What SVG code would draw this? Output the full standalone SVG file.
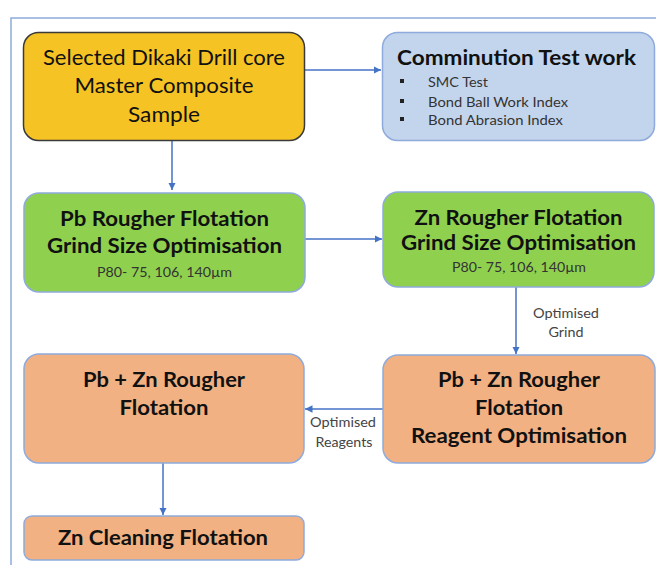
<svg xmlns="http://www.w3.org/2000/svg" width="656" height="565" viewBox="0 0 656 565">
<defs>
<style>
.box{stroke:#8FAADC;stroke-width:1.5}
.t{font-family:Lato,"Liberation Sans",sans-serif;fill:#111;text-anchor:middle}
.b{font-weight:bold;font-size:21px}
.r{font-size:21px}
.s{font-size:13px;fill:#333}
.lbl{font-family:Lato,"Liberation Sans",sans-serif;font-size:13px;fill:#444;text-anchor:middle}
.bl{font-family:Lato,"Liberation Sans",sans-serif;font-size:13px;fill:#333}
.c{stroke:#4472C4;stroke-width:1.5;fill:none;marker-end:url(#ah)}
</style>
<marker id="ah" viewBox="0 0 10 10" refX="10" refY="5" markerWidth="5" markerHeight="5" orient="auto" markerUnits="strokeWidth">
<path d="M0,0 L10,5 L0,10 z" fill="#4472C4"/>
</marker>
</defs>
<rect width="656" height="565" fill="#fff"/>
<path d="M11,565 V18 H656" fill="none" stroke="#8FAADC" stroke-width="1.5"/>
<g id="connectors">
<path class="c" d="M305,70 H381"/>
<path class="c" d="M172,141 V190"/>
<path class="c" d="M305,239 H382"/>
<path class="c" d="M516,287 V354"/>
<path class="c" d="M383,409 H305"/>
<path class="c" d="M163,463 V515"/>
<text class="lbl" x="566" y="318" textLength="66" lengthAdjust="spacingAndGlyphs">Optimised</text>
<text class="lbl" x="566" y="337" textLength="35" lengthAdjust="spacingAndGlyphs">Grind</text>
<text class="lbl" x="343" y="427" textLength="66" lengthAdjust="spacingAndGlyphs">Optimised</text>
<text class="lbl" x="344" y="447" textLength="57" lengthAdjust="spacingAndGlyphs">Reagents</text>
</g>
<g id="sample">
<rect x="23.5" y="32.5" width="281" height="108" rx="15" fill="#F6C324" stroke="#3A3A3A" stroke-width="1.5"/>
<text class="t r" x="164" y="65" textLength="242" lengthAdjust="spacingAndGlyphs">Selected Dikaki Drill core</text>
<text class="t r" x="164" y="93" textLength="179" lengthAdjust="spacingAndGlyphs">Master Composite</text>
<text class="t r" x="164" y="122" textLength="72" lengthAdjust="spacingAndGlyphs">Sample</text>
</g>
<g id="comminution">
<rect class="box" x="382.5" y="32.5" width="272" height="108" rx="15" fill="#C3D5ED"/>
<text class="t b" x="516.5" y="65" textLength="239" lengthAdjust="spacingAndGlyphs">Comminution Test work</text>
<rect x="400" y="79" width="4" height="4" fill="#222"/>
<rect x="400" y="99" width="4" height="4" fill="#222"/>
<rect x="400" y="117" width="4" height="4" fill="#222"/>
<text class="bl" x="428" y="87" textLength="60" lengthAdjust="spacingAndGlyphs">SMC Test</text>
<text class="bl" x="428" y="107" textLength="140" lengthAdjust="spacingAndGlyphs">Bond Ball Work Index</text>
<text class="bl" x="428" y="125" textLength="135" lengthAdjust="spacingAndGlyphs">Bond Abrasion Index</text>
</g>
<g id="pb-grind">
<rect class="box" x="24" y="193" width="281" height="99" rx="15" fill="#8FD14F"/>
<text class="t b" x="164.5" y="226" textLength="209" lengthAdjust="spacingAndGlyphs">Pb Rougher Flotation</text>
<text class="t b" x="164.5" y="253" textLength="235" lengthAdjust="spacingAndGlyphs">Grind Size Optimisation</text>
<text class="t s" x="164.5" y="277" textLength="135" lengthAdjust="spacingAndGlyphs">P80- 75, 106, 140µm</text>
</g>
<g id="zn-grind">
<rect class="box" x="383" y="192" width="271" height="95" rx="15" fill="#8FD14F"/>
<text class="t b" x="518.5" y="225" textLength="208" lengthAdjust="spacingAndGlyphs">Zn Rougher Flotation</text>
<text class="t b" x="518.5" y="250" textLength="235" lengthAdjust="spacingAndGlyphs">Grind Size Optimisation</text>
<text class="t s" x="519" y="272" textLength="134" lengthAdjust="spacingAndGlyphs">P80- 75, 106, 140µm</text>
</g>
<g id="reagent-opt">
<rect class="box" x="383" y="355" width="272" height="108" rx="15" fill="#F2B183"/>
<text class="t b" x="519" y="387" textLength="162" lengthAdjust="spacingAndGlyphs">Pb + Zn Rougher</text>
<text class="t b" x="519" y="415" textLength="88" lengthAdjust="spacingAndGlyphs">Flotation</text>
<text class="t b" x="519" y="443" textLength="216" lengthAdjust="spacingAndGlyphs">Reagent Optimisation</text>
</g>
<g id="pbzn-rougher">
<rect class="box" x="24" y="354" width="280" height="109" rx="15" fill="#F2B183"/>
<text class="t b" x="164" y="387" textLength="162" lengthAdjust="spacingAndGlyphs">Pb + Zn Rougher</text>
<text class="t b" x="164" y="415" textLength="89" lengthAdjust="spacingAndGlyphs">Flotation</text>
</g>
<g id="zn-cleaning">
<rect class="box" x="24" y="516" width="280" height="44" rx="8" fill="#F2B183"/>
<text class="t b" x="163" y="545" textLength="210" lengthAdjust="spacingAndGlyphs">Zn Cleaning Flotation</text>
</g>
</svg>
